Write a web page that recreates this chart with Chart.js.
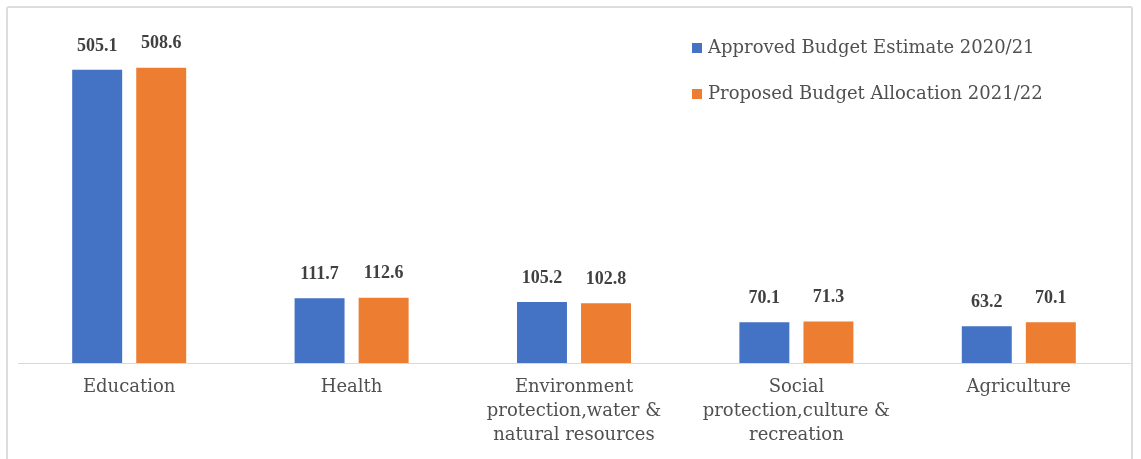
<!DOCTYPE html>
<html>
<head>
<meta charset="utf-8">
<script src="https://cdn.jsdelivr.net/npm/chart.js@4.4.0/dist/chart.umd.min.js"></script>
<style>
  body { margin: 0; background: #fff; }
  #frame { position: absolute; left: 6px; top: 6px; width: 1123px; height: 470px; border: 2px solid #dcdcdc; border-radius: 3px; }
  #budgetChart { position: absolute; left: 0; top: 0; }
</style>
</head>
<body>
<div id="frame"></div>
<canvas id="budgetChart" width="1141" height="459"></canvas>
<script>
// Categories and values (billions)
var categories = [
  "Education",
  ["Health"],
  ["Environment", "protection,water &", "natural resources"],
  ["Social", "protection,culture &", "recreation"],
  "Agriculture"
];
var approved2021 = [505.1, 111.7, 105.2, 70.1, 63.2];
var proposed2122 = [508.6, 112.6, 102.8, 71.3, 70.1];
var seriesNames = ["Approved Budget Estimate 2020/21", "Proposed Budget Allocation 2021/22"];

// Value labels above each bar
var valueLabels = {
  id: 'valueLabels',
  afterDatasetsDraw: function(chart) {
    var ctx = chart.ctx;
    ctx.save();
    ctx.font = 'bold 18px "Liberation Serif"';
    ctx.fillStyle = '#404040';
    ctx.textAlign = 'center';
    ctx.textBaseline = 'middle';
    chart.data.datasets.forEach(function(ds, i) {
      var meta = chart.getDatasetMeta(i);
      meta.data.forEach(function(bar, j) {
        ctx.fillText(ds.data[j].toFixed(1), bar.x, bar.y - 24);
      });
    });
    ctx.restore();
  }
};

// Legend drawn inside the plot, top right
var insideLegend = {
  id: 'insideLegend',
  afterDraw: function(chart) {
    var ctx = chart.ctx;
    ctx.save();
    ctx.font = '18px "DejaVu Serif"';
    ctx.textBaseline = 'middle';
    ctx.textAlign = 'left';
    chart.data.datasets.forEach(function(ds, i) {
      var y = 48 + i * 46;
      ctx.fillStyle = ds.backgroundColor;
      ctx.fillRect(692, y - 5, 10, 10);
      ctx.fillStyle = '#505050';
      ctx.fillText(ds.label, 708, y);
    });
    ctx.restore();
  }
};

var ctx = document.getElementById('budgetChart').getContext('2d');
var budgetChart = new Chart(ctx, {
  type: 'bar',
  data: {
    labels: categories,
    datasets: [
      {
        label: seriesNames[0],
        data: approved2021,
        backgroundColor: '#4472C4',
        categoryPercentage: 0.576,
        barPercentage: 0.78
      },
      {
        label: seriesNames[1],
        data: proposed2122,
        backgroundColor: '#ED7D31',
        categoryPercentage: 0.576,
        barPercentage: 0.78
      }
    ]
  },
  options: {
    responsive: false,
    animation: false,
    layout: { padding: { top: 38, left: 18, right: 11, bottom: 0 } },
    plugins: {
      legend: { display: false },
      tooltip: { enabled: false }
    },
    scales: {
      x: {
        grid: { display: false, drawTicks: false },
        border: { display: true, color: '#d9d9d9', width: 1 },
        ticks: {
          color: '#505050',
          font: { family: 'DejaVu Serif', size: 18, lineHeight: '24px' },
          padding: 12,
          autoSkip: false,
          maxRotation: 0
        }
      },
      y: {
        display: false,
        min: 0,
        max: 560
      }
    }
  },
  plugins: [valueLabels, insideLegend]
});
</script>
</body>
</html>
